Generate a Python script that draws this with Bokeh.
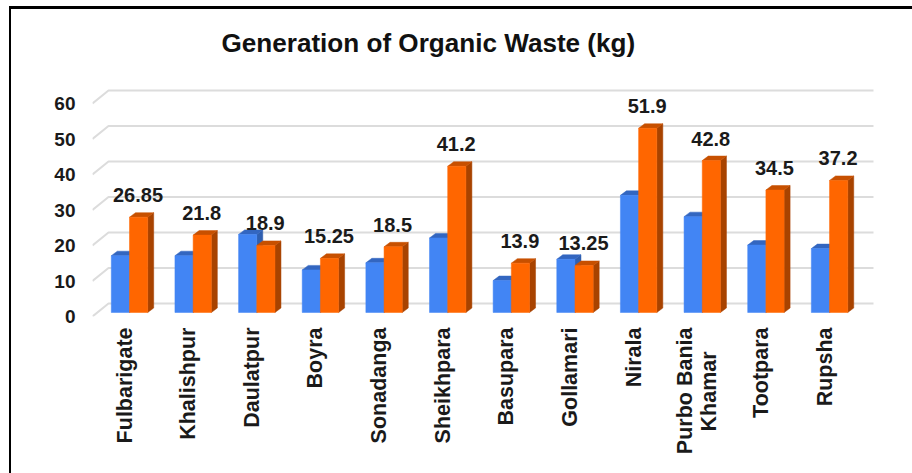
from bokeh.core.properties import value
from bokeh.embed import file_html
from bokeh.models import ColumnDataSource, FixedTicker, LinearAxis, Range1d
from bokeh.plotting import figure
from bokeh.resources import INLINE

title = "Generation of Organic Waste (kg)"
categories = ["Fulbarigate", "Khalishpur", "Daulatpur", "Boyra", "Sonadanga", "Sheikhpara",
              "Basupara", "Gollamari", "Nirala", "Purbo Bania\nKhamar", "Tootpara", "Rupsha"]
series_a = [16, 16, 22, 12, 14, 21, 9, 15, 33, 27, 19, 18]
series_b = [26.85, 21.8, 18.9, 15.25, 18.5, 41.2, 13.9, 13.25, 51.9, 42.8, 34.5, 37.2]
y_ticks = [0, 10, 20, 30, 40, 50, 60]

FONT = "Liberation Sans"
PX_X = 63.64   # pixels per category
PX_Y = 3.55    # pixels per unit
px = lambda n: n / PX_X
py = lambda n: n / PX_Y

p = figure(width=901, height=464, margin=(6, 0, 0, 9), output_backend="svg", toolbar_location=None,
           x_range=Range1d(-32 / PX_X, 788 / PX_X), y_range=Range1d(0, 246 / PX_Y),
           min_border_left=81, min_border_right=2, min_border_top=61, min_border_bottom=160,
           x_axis_type=None, y_axis_type=None, outline_line_color=None,
           background_fill_color="white", border_fill_color="white",
           styles={"border-top": "3px solid black", "border-left": "2px solid black", "box-sizing": "content-box"})
p.xgrid.visible = False
p.ygrid.visible = False

p.title.text = title
p.title.align = "left"
p.title.offset = 129
p.title.standoff = 25
p.title.text_font = FONT
p.title.text_font_size = "26.1px"
p.title.text_font_style = "bold"
p.title.text_color = "#111111"

# y axis
ya = LinearAxis(ticker=FixedTicker(ticks=y_ticks), axis_line_color=None,
                major_tick_line_color=None, minor_tick_line_color=None,
                major_label_standoff=11, major_label_text_font=FONT,
                major_label_text_font_size="19px", major_label_text_font_style="bold",
                major_label_text_color="#1a1a1a")
p.add_layout(ya, "left")


# x axis; a shorter last line is padded so that both lines of a label are centred
def centred(label):
    lines = label.split("\n")
    if len(lines) == 1:
        return label
    return lines[0] + "\n" + lines[1] + "\u00a0" * 4


xa = LinearAxis(ticker=FixedTicker(ticks=list(range(len(categories)))),
                axis_line_color=None,
                major_tick_line_color=None, minor_tick_line_color=None,
                major_label_standoff=5, major_label_text_font=FONT,
                major_label_text_font_size="21.5px", major_label_text_font_style="bold",
                major_label_text_color="#1a1a1a", major_label_orientation=1.5707963,
                major_label_text_line_height=1.0,
                major_label_overrides={i: centred(c) for i, c in enumerate(categories)})
p.add_layout(xa, "below")

# 3-D floor and back wall gridlines
FLOOR_DX, FLOOR_DY = px(16), py(13)
x_end = px(749)
p.multi_line([[-32 / PX_X, -32 / PX_X + FLOOR_DX, x_end] for _ in y_ticks],
             [[t, t + FLOOR_DY, t + FLOOR_DY] for t in y_ticks],
             line_color="#dcdcdc", line_width=2)

# bars: front face, top face, side face
LIFT_X, LIFT_Y = px(5), py(4)
DEPTH_X, DEPTH_Y = px(6), py(4.5)
BAR_W = px(18.2)


def bars(values, offset, front, top, side):
    x0 = [i + LIFT_X + offset for i in range(len(values))]
    x1 = [x + BAR_W for x in x0]
    y0 = LIFT_Y
    yt = [v + LIFT_Y for v in values]
    p.patches([[a, b, b, a] for a, b in zip(x1, [x + DEPTH_X for x in x1])],
              [[y0, y0 + DEPTH_Y, t + DEPTH_Y, t] for t in yt],
              fill_color=side, line_color=side, line_width=0.5)
    p.patches([[a, a + DEPTH_X, b + DEPTH_X, b] for a, b in zip(x0, x1)],
              [[t, t + DEPTH_Y, t + DEPTH_Y, t] for t in yt],
              fill_color=top, line_color=top, line_width=0.5)
    p.quad(left=x0, right=x1, bottom=y0, top=yt, fill_color=front, line_color=front, line_width=0.5)


bars(series_a, -BAR_W, "#4285f4", "#3366c0", "#2f5fb0")
bars(series_b, 0, "#ff6600", "#c75000", "#a84300")

# data labels
src = ColumnDataSource(dict(x=[i + px(13.5) for i in range(len(series_b))],
                            y=[v + LIFT_Y + py(22) for v in series_b],
                            t=[str(v) for v in series_b]))
p.text("x", "y", text="t", source=src, text_align="center", text_baseline="middle",
       text_font=value(FONT), text_font_size="20px", text_font_style="bold", text_color="#1a1a1a")

open("out.html", "w").write(file_html(p, INLINE))
